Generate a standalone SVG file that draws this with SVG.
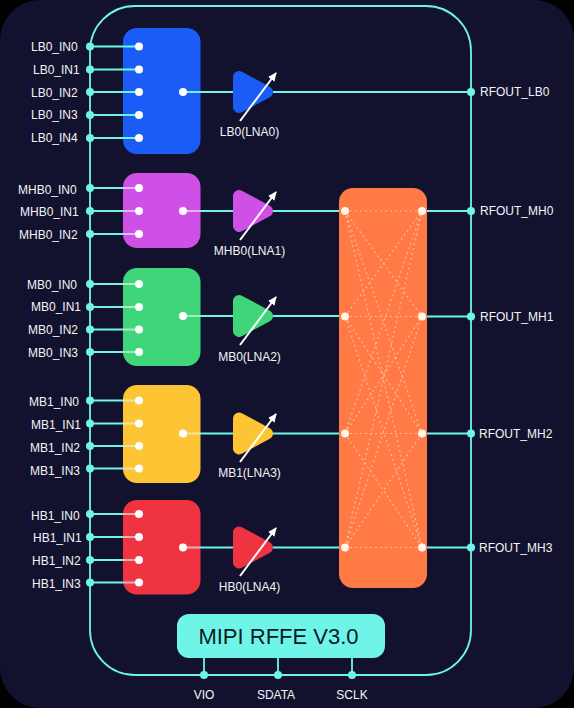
<svg xmlns="http://www.w3.org/2000/svg" width="574" height="708" viewBox="0 0 574 708">
<style>
text{font-family:"Liberation Sans",Arial,sans-serif;font-size:12px;fill:#f2f4f6}
.c{text-anchor:middle}
.w{stroke:#6ff5e8;stroke-width:1.800;fill:none}
.i{stroke:#e4f6f2;stroke-width:2;opacity:.65;fill:none}
.d{stroke:#ffe6cf;stroke-width:1.200;stroke-dasharray:2 3;opacity:.6;fill:none}
.a{stroke:#fff;stroke-width:2;fill:none;marker-end:url(#h)}
.p{fill:#6ff5e8}
.q{fill:#fff}
.o{fill:#fff5ea}
.t{stroke-width:12;stroke-linejoin:round}
</style>
<defs>
<marker id="h" markerUnits="userSpaceOnUse" markerWidth="10" markerHeight="10" refX="8" refY="4" orient="auto"><path d="M0 0L9 4L0 8Z" fill="#fff"/></marker>
<path id="tri" d="M239 -15L267 0L239 15Z"/>
</defs>
<rect width="574" height="708" fill="#000"/>
<rect width="574" height="708" rx="40" fill="#12122e"/>
<g id="blocks">
<g id="block-lb0"><rect x="123" y="28" width="77.500" height="126" rx="14" fill="#1c5cf6"/></g>
<g id="block-mhb0"><rect x="123" y="173" width="77.500" height="75" rx="14" fill="#cf50e6"/></g>
<g id="block-mb0"><rect x="123" y="268" width="77.500" height="98" rx="14" fill="#3fd67a"/></g>
<g id="block-mb1"><rect x="123" y="385" width="77.500" height="98" rx="14" fill="#fdc433"/></g>
<g id="block-hb"><rect x="123" y="500" width="77.500" height="94.500" rx="14" fill="#ef3340"/></g>
<g id="block-switch"><rect x="339" y="188" width="88" height="400" rx="14" fill="#ff7a45"/></g>
<g id="block-mipi"><rect x="177" y="614" width="208" height="44" rx="12" fill="#6ff5e8"/><text class="c" x="278.500" y="644" style="font-size:22px;fill:#0c1a24">MIPI RFFE V3.0</text></g>
</g>
<g id="connectors">
<rect class="w" x="90" y="6" width="381" height="669" rx="45"/>
<path class="w" d="M90 46.500H123M90 69.500H123M90 92H123M90 115H123M90 138H123M90 188H123M90 211H123M90 234H123M90 284H123M90 307H123M90 329.500H123M90 352H123M90 400.500H123M90 423.500H123M90 446H123M90 468.500H123M90 514H123M90 537H123M90 560H123M90 582.500H123"/>
<path class="w" d="M200 92H233M273 92H471M200 211H233M273 211H339M200 316H233M273 316H339M200 433.500H233M273 433.500H339M200 547.500H233M273 547.500H339M427 211H471M427 316.500H471M427 433.500H471M427 547.500H471M204 658V675M278 658V675M352 658V675"/>
<path class="i" d="M123 188H139M123 211H139M123 234H139M183 211H200M123 284H139M123 307H139M123 329.500H139M123 352H139M183 316H200M123 400.500H139M123 423.500H139M123 446H139M123 468.500H139M183 433.500H200M123 514H139M123 537H139M123 560H139M123 582.500H139M183 547.500H200"/>
<path class="w" d="M123 46.500H139M123 69.500H139M123 92H139M123 115H139M123 138H139M183 92H200"/>
<path class="d" d="M345 211H422M345 316.500H422M345 433.500H422M345 547.500H422M345 211L422 316.500M345 211L422 433.500M345 211L422 547.500M345 316.500L422 211M345 316.500L422 433.500M345 316.500L422 547.500M345 433.500L422 211M345 433.500L422 316.500M345 433.500L422 547.500M345 547.500L422 211M345 547.500L422 316.500M345 547.500L422 433.500"/>
</g>
<g id="lnas">
<g id="lna0"><use href="#tri" y="92" class="t" fill="#1c5cf6" stroke="#1c5cf6"/><path class="a" d="M240 121L276 73"/><text class="c" x="249.500" y="136">LB0(LNA0)</text></g>
<g id="lna1"><use href="#tri" y="211" class="t" fill="#cf50e6" stroke="#cf50e6"/><path class="a" d="M240 240L276 192"/><text class="c" x="249.500" y="255">MHB0(LNA1)</text></g>
<g id="lna2"><use href="#tri" y="316" class="t" fill="#3fd67a" stroke="#3fd67a"/><path class="a" d="M240 345L276 297"/><text class="c" x="249.500" y="361">MB0(LNA2)</text></g>
<g id="lna3"><use href="#tri" y="433.500" class="t" fill="#fdc433" stroke="#fdc433"/><path class="a" d="M240 462L276 414"/><text class="c" x="249.500" y="477">MB1(LNA3)</text></g>
<g id="lna4"><use href="#tri" y="547.500" class="t" fill="#ef3340" stroke="#ef3340"/><path class="a" d="M240 576L276 528"/><text class="c" x="249.500" y="591">HB0(LNA4)</text></g>
</g>
<g id="pins-outer" class="p">
<circle cx="90" cy="46.500" r="4"/><circle cx="90" cy="69.500" r="4"/><circle cx="90" cy="92" r="4"/><circle cx="90" cy="115" r="4"/><circle cx="90" cy="138" r="4"/>
<circle cx="90" cy="188" r="4"/><circle cx="90" cy="211" r="4"/><circle cx="90" cy="234" r="4"/>
<circle cx="90" cy="284" r="4"/><circle cx="90" cy="307" r="4"/><circle cx="90" cy="329.500" r="4"/><circle cx="90" cy="352" r="4"/>
<circle cx="90" cy="400.500" r="4"/><circle cx="90" cy="423.500" r="4"/><circle cx="90" cy="446" r="4"/><circle cx="90" cy="468.500" r="4"/>
<circle cx="90" cy="514" r="4"/><circle cx="90" cy="537" r="4"/><circle cx="90" cy="560" r="4"/><circle cx="90" cy="582.500" r="4"/>
<circle cx="471" cy="92" r="4"/><circle cx="471" cy="211" r="4"/><circle cx="471" cy="316.500" r="4"/><circle cx="471" cy="433.500" r="4"/><circle cx="471" cy="547.500" r="4"/>
<circle cx="204" cy="675" r="4"/><circle cx="278" cy="675" r="4"/><circle cx="352" cy="675" r="4"/>
</g>
<g id="pins-inner" class="q">
<circle cx="139" cy="46.500" r="4"/><circle cx="139" cy="69.500" r="4"/><circle cx="139" cy="92" r="4"/><circle cx="139" cy="115" r="4"/><circle cx="139" cy="138" r="4"/><circle cx="183" cy="92" r="4"/>
<circle cx="139" cy="188" r="4"/><circle cx="139" cy="211" r="4"/><circle cx="139" cy="234" r="4"/><circle cx="183" cy="211" r="4"/>
<circle cx="139" cy="284" r="4"/><circle cx="139" cy="307" r="4"/><circle cx="139" cy="329.500" r="4"/><circle cx="139" cy="352" r="4"/><circle cx="183" cy="316" r="4"/>
<circle cx="139" cy="400.500" r="4"/><circle cx="139" cy="423.500" r="4"/><circle cx="139" cy="446" r="4"/><circle cx="139" cy="468.500" r="4"/><circle cx="183" cy="433.500" r="4"/>
<circle cx="139" cy="514" r="4"/><circle cx="139" cy="537" r="4"/><circle cx="139" cy="560" r="4"/><circle cx="139" cy="582.500" r="4"/><circle cx="183" cy="547.500" r="4"/>
</g>
<g id="pins-switch" class="o">
<circle cx="345" cy="211" r="4"/><circle cx="345" cy="316.500" r="4"/><circle cx="345" cy="433.500" r="4"/><circle cx="345" cy="547.500" r="4"/>
<circle cx="422" cy="211" r="4"/><circle cx="422" cy="316.500" r="4"/><circle cx="422" cy="433.500" r="4"/><circle cx="422" cy="547.500" r="4"/>
</g>
<g id="labels">
<text x="31" y="51">LB0_IN0</text><text x="33" y="74">LB0_IN1</text><text x="31" y="96.500">LB0_IN2</text><text x="31" y="119">LB0_IN3</text><text x="31" y="142">LB0_IN4</text>
<text x="18" y="194">MHB0_IN0</text><text x="20" y="216">MHB0_IN1</text><text x="19" y="239">MHB0_IN2</text>
<text x="27" y="289">MB0_IN0</text><text x="31" y="311">MB0_IN1</text><text x="28" y="334">MB0_IN2</text><text x="28" y="357">MB0_IN3</text>
<text x="29" y="406">MB1_IN0</text><text x="31" y="429">MB1_IN1</text><text x="30" y="452">MB1_IN2</text><text x="30" y="475">MB1_IN3</text>
<text x="31" y="520">HB1_IN0</text><text x="33" y="542">HB1_IN1</text><text x="32" y="565">HB1_IN2</text><text x="32" y="588">HB1_IN3</text>
<text x="480" y="96">RFOUT_LB0</text><text x="480" y="215">RFOUT_MH0</text><text x="480" y="321">RFOUT_MH1</text><text x="479" y="438">RFOUT_MH2</text><text x="479" y="552">RFOUT_MH3</text>
<text class="c" x="204" y="699">VIO</text><text class="c" x="276" y="699">SDATA</text><text class="c" x="352" y="699">SCLK</text>
</g>
</svg>
